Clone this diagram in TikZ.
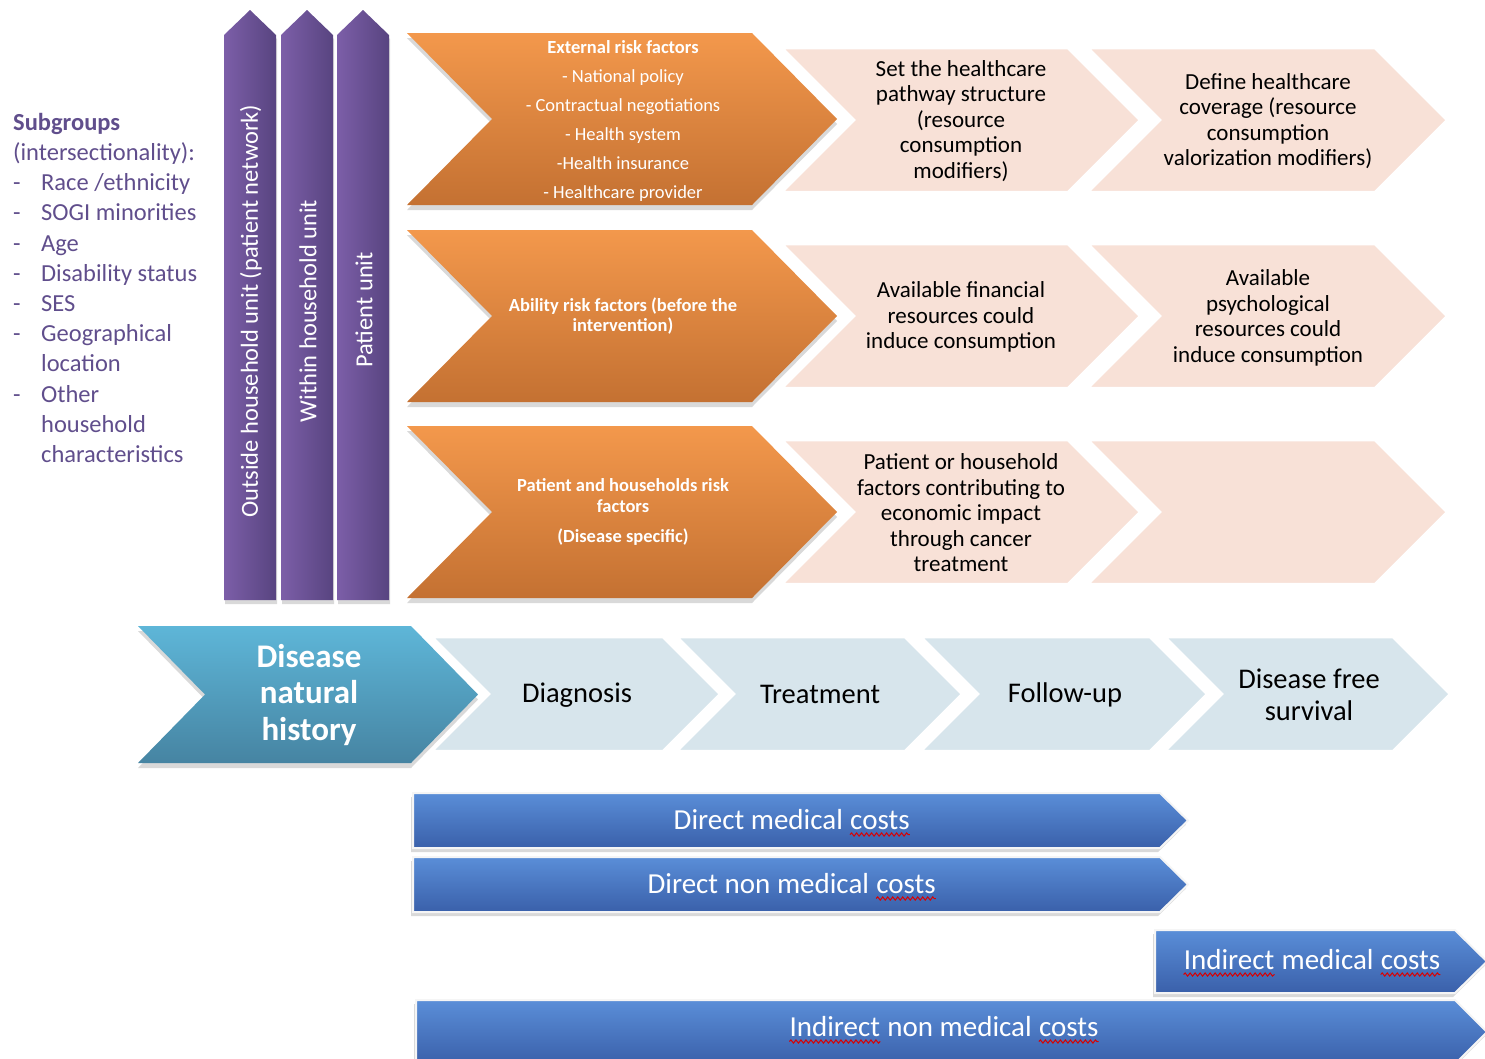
\documentclass[tikz,border=0pt]{standalone}
\usepackage{fontspec}
\setmainfont{Carlito}
\usetikzlibrary{shadows,decorations.pathmorphing}

\definecolor{subgrouptext}{RGB}{96,78,140}
\definecolor{purpleL}{RGB}{124,94,168}
\definecolor{purpleD}{RGB}{88,68,128}
\definecolor{orangeT}{RGB}{243,152,76}
\definecolor{orangeB}{RGB}{196,113,50}
\definecolor{pinkfill}{RGB}{248,225,215}
\definecolor{tealT}{RGB}{94,182,216}
\definecolor{tealB}{RGB}{70,132,162}
\definecolor{stagefill}{RGB}{215,229,236}
\definecolor{costT}{RGB}{90,142,216}
\definecolor{costB}{RGB}{58,96,170}

% red spell-check wave under a word
\newcommand\spellwave[1]{\tikz[baseline=(word.base)]{\node[inner sep=0pt] (word) {#1};
    \draw[red!85!black, line width=1pt, decorate, decoration={snake, amplitude=1.6pt, segment length=5pt}]
        ([yshift=-5pt]word.base west) -- ([yshift=-5pt]word.base east);}}
\newcommand\listdash{\makebox[28pt][l]{-}}
\newcommand\listcont{\hspace*{28pt}}

% chevron: style, left x, top y, length to tip, height, point depth
\newcommand\chevron[6]{\path[#1] (#2,#3) -- ++(#4-#6,0) -- ++(#6,#5/2) -- ++(-#6,#5/2) -- ++(-#4+#6,0) -- ++(#6,-#5/2) -- cycle;}
% cost bar: same, flat left end
\newcommand\costbar[6]{\path[#1] (#2,#3) -- ++(#4-#6,0) -- ++(#6,#5/2) -- ++(-#6,#5/2) -- ++(-#4+#6,0) -- cycle;}
% unit column pointing up: left x
\newcommand\unitcol[1]{\path[unitbar] (#1,600) -- (#1,35) -- (#1+26,10) -- (#1+52,35) -- (#1+52,600) -- cycle;}

\begin{document}
\begin{tikzpicture}[x=1pt, y=-1pt,
    unitbar/.style={left color=purpleL, right color=purpleD,
        drop shadow={opacity=0.3, shadow xshift=1pt, shadow yshift=-4pt}},
    riskchev/.style={top color=orangeT, bottom color=orangeB,
        drop shadow={opacity=0.3, shadow xshift=0pt, shadow yshift=-5pt}},
    pinkchev/.style={fill=pinkfill, draw=white, line width=2.5pt},
    stagechev/.style={fill=stagefill, draw=white, line width=2.5pt},
    historychev/.style={top color=tealT, bottom color=tealB,
        drop shadow={opacity=0.3, shadow xshift=0pt, shadow yshift=-5pt}},
    costbox/.style={top color=costT, bottom color=costB, draw=white!92!gray, line width=2pt,
        drop shadow={opacity=0.3, shadow xshift=-2pt, shadow yshift=-4pt}},
    subgrouplist/.style={inner sep=0pt, align=left, text=subgrouptext,
        font=\fontsize{24.5}{30.2}\selectfont},
    unitlabel/.style={rotate=90, inner sep=0pt, text=white, font=\fontsize{24.5}{29}\selectfont},
    risktext/.style={inner sep=0pt, align=center, text=white, font=\fontsize{18.5}{20.5}\selectfont\bfseries},
    pinktext/.style={inner sep=0pt, align=center, font=\fontsize{23}{25.5}\selectfont},
    historytext/.style={inner sep=0pt, align=center, text=white, font=\fontsize{33}{36.5}\selectfont\bfseries},
    stagetext/.style={inner sep=0pt, align=center, font=\fontsize{28.5}{32}\selectfont},
    costtext/.style={inner sep=0pt, text=white, font=\fontsize{29}{34}\selectfont}]
\useasboundingbox (0,0) rectangle (1485,1058);

% unit columns
\unitcol{224}
\unitcol{281}
\unitcol{337}

% risk rows
\foreach \top in {48,244,440}{
    \chevron{pinkchev}{1088}{\top}{359}{144}{72}
    \chevron{pinkchev}{782}{\top}{358}{144}{72}
}
\foreach \top in {33,230,426}{
    \chevron{riskchev}{407}{\top}{430}{172}{85}
}

% care pathway
\chevron{stagechev}{1165}{637}{285}{114}{57}
\chevron{stagechev}{921}{637}{286}{114}{57}
\chevron{stagechev}{677}{637}{285}{114}{57}
\chevron{stagechev}{432}{637}{288}{114}{57}
\chevron{historychev}{138}{626}{340}{137}{67}

% costs
\costbar{costbox}{413}{793}{775}{55}{28}
\costbar{costbox}{413}{857}{775}{55}{28}
\costbar{costbox}{1155}{930}{332}{63}{32}
\costbar{costbox}{416}{1000}{1071}{64}{32}

% texts
\node[subgrouplist, anchor=north west] (subgroups) at (13,113) {\textbf{Subgroups}\\
    (intersectionality):\\
    \listdash Race /ethnicity\\
    \listdash SOGI minorities\\
    \listdash Age\\
    \listdash Disability status\\
    \listdash SES\\
    \listdash Geographical\\
    \listcont location\\
    \listdash Other\\
    \listcont household\\
    \listcont characteristics};

\node[unitlabel] (outside) at (251,311) {Outside household unit (patient network)};
\node[unitlabel] (within) at (308,311) {Within household unit};
\node[unitlabel] (patient) at (364,310) {Patient unit};

\node[risktext, font=\fontsize{18.5}{29}\selectfont] (external) at (623,121) {\textbf{External risk factors}\\
    - National policy\\- Contractual negotiations\\- Health system\\-Health insurance\\- Healthcare provider};
\node[risktext] (ability) at (623,316) {Ability risk factors (before the\\intervention)};
\node[risktext] (household) at (623,512) {Patient and households risk\\factors\\[9.5pt](Disease specific)};

\node[pinktext] (pathway) at (961,121) {Set the healthcare\\pathway structure\\(resource\\consumption\\modifiers)};
\node[pinktext] (coverage) at (1268,121) {Define healthcare\\coverage (resource\\consumption\\valorization modifiers)};
\node[pinktext] (financial) at (961,317) {Available financial\\resources could\\induce consumption};
\node[pinktext] (psychological) at (1268,318) {Available\\psychological\\resources could\\induce consumption};
\node[pinktext] (economic) at (961,513) {Patient or household\\factors contributing to\\economic impact\\through cancer\\treatment};

\node[historytext] (history) at (309,695) {Disease\\natural\\history};
\node[stagetext] (diagnosis) at (577,695) {Diagnosis};
\node[stagetext] (treatment) at (820,694) {Treatment};
\node[stagetext] (followup) at (1065,695) {Follow-up};
\node[stagetext] (survival) at (1309,695) {Disease free\\survival};

\node[costtext] (directmed) at (792,823) {Direct medical \spellwave{costs}};
\node[costtext] (directnonmed) at (792,887) {Direct non medical \spellwave{costs}};
\node[costtext] (indirectmed) at (1312,963) {\spellwave{Indirect} medical \spellwave{costs}};
\node[costtext] (indirectnonmed) at (944,1030) {\spellwave{Indirect} non medical \spellwave{costs}};
\end{tikzpicture}
\end{document}
